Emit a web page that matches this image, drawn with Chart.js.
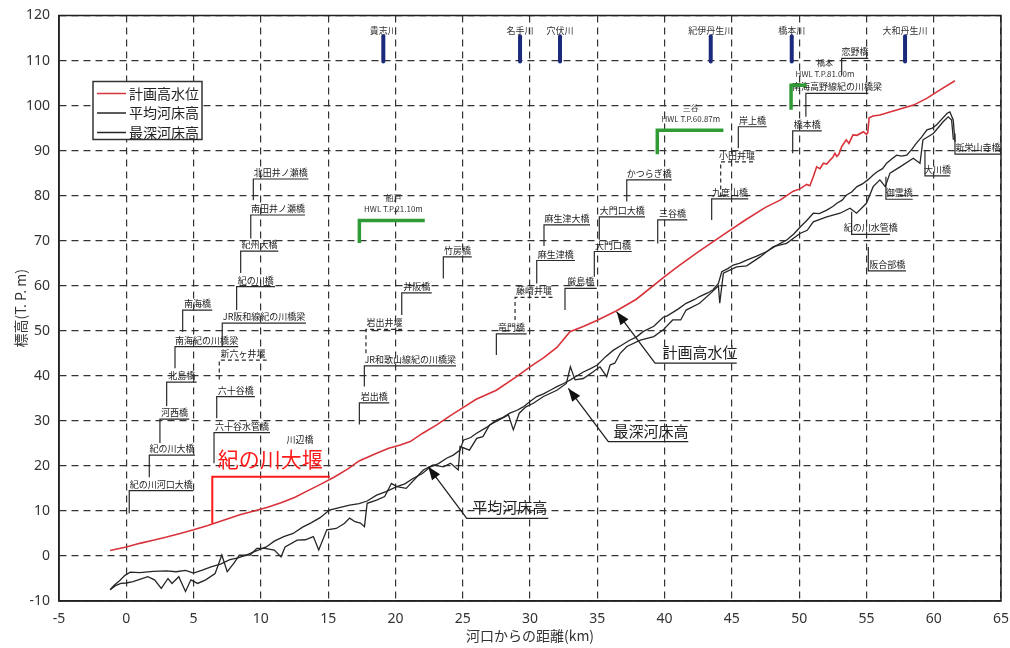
<!DOCTYPE html>
<html>
<head>
<meta charset="utf-8">
<script src="https://cdn.jsdelivr.net/npm/chart.js@4"></script>
<style>
html,body{margin:0;padding:0;background:#fff;}
#wrap{width:1010px;height:648px;}
</style>
</head>
<body>
<div id="wrap"><canvas id="c" width="1010" height="648"></canvas></div>
<script>
// ---------- data (km from river mouth, elevation T.P. m) ----------
const xTicks = [-5,0,5,10,15,20,25,30,35,40,45,50,55,60,65];
const yTicks = [-10,0,10,20,30,40,50,60,70,80,90,100,110,120];

const seriesNames = ['計画高水位','平均河床高','最深河床高'];

const hwlKm   = [-1.2,0,1,2,3,4,5,6,6.5,7.5,8.5,9.5,10.5,11.5,12.5,13.5,14.5,15.5,16.5,17.3,18.6,19.5,20.3,21.1,22.0,23.07,24.0,25.05,26.0,27.5,29.0,30.0,31.0,32.0,32.97,34.0,34.96,36.4,37.9,40.0,41.0,42.5,44.6,46.0,47.5,48.58,49.56,50.06,50.56,50.8,51.05,51.3,51.55,51.8,52.05,52.3,52.5,52.66,52.8,52.95,53.16,53.5,53.7,54.0,54.3,54.77,55.0,55.1,55.2,55.5,56.0,57.25,58.5,59.48,60.47,61.58];
const hwlElev = [1.2,2.0,2.8,3.5,4.2,5.0,5.8,6.7,7.2,8.2,9.2,10.0,10.8,11.8,13.0,14.5,16.0,17.6,19.4,21.1,22.8,23.9,24.6,25.4,27.2,29.1,31.0,33.0,34.8,36.8,39.8,42.0,44.0,46.3,49.8,51.0,52.3,54.4,57.0,62.0,64.3,67.5,71.8,74.6,77.4,79.0,81.0,81.5,82.5,82.2,84.2,86.4,86.0,87.2,87.0,87.9,88.5,89.4,88.7,89.2,90.9,92.4,91.6,93.5,93.4,94.2,93.6,94.0,97.3,97.7,97.9,99.0,100.1,101.6,103.5,105.5];

const avgKm   = [-1.2,-0.9,-0.5,-0.1,0.3,1.0,2.0,3.0,3.7,4.4,5.0,5.7,6.3,7.0,7.7,8.3,9.0,9.7,10.4,11.0,11.7,12.4,13.1,13.7,14.4,15.1,15.9,16.6,17.3,17.9,18.6,19.3,20.1,20.7,21.3,22.0,22.6,23.2,23.8,24.3,24.8,25.05,25.6,26.0,26.8,27.5,28.0,28.5,29.0,29.5,30.0,30.5,31.0,31.5,32.0,32.5,33.0,33.5,34.0,34.5,35.0,35.6,36.2,36.8,37.4,37.9,38.4,39.2,39.9,40.2,41.0,41.6,42.2,42.6,43.2,43.6,44.0,44.25,44.7,45.1,45.6,46.1,46.8,47.6,48.3,49.1,49.6,50.1,50.6,51.05,51.5,52.05,52.5,52.8,53.2,53.5,53.9,54.3,54.7,55.1,55.5,55.8,56.2,56.5,56.9,57.25,57.6,58.0,58.4,58.7,59.1,59.5,59.9,60.2,60.6,61.0,61.2,61.45,61.58];
const avgElev = [-7.5,-6.5,-5.5,-4.3,-3.6,-3.7,-3.4,-3.3,-3.5,-3.2,-3.8,-3.1,-2.4,-1.8,-0.8,-0.4,0.3,1.2,2.0,3.3,4.3,5.0,6.4,7.3,8.5,10.2,10.8,11.3,11.6,12.2,13.5,14.3,15.4,16.0,17.2,18.3,19.8,20.5,21.7,22.4,23.5,25.7,26.3,27.2,28.6,30.2,30.8,31.7,32.3,33.1,34.3,35.4,36.0,36.8,37.6,38.3,39.1,40.0,40.9,41.6,42.4,44.2,45.7,46.8,47.9,48.6,49.8,51.0,53.0,53.3,54.8,56.1,56.9,57.6,58.4,59.1,60.5,63.1,63.8,64.6,65.0,65.7,66.5,67.6,68.9,70.2,71.5,73.1,74.6,76.1,76.0,76.8,77.6,78.3,79.0,80.1,80.8,82.0,82.6,83.5,84.6,85.3,86.0,87.2,88.2,89.0,88.8,89.0,90.4,91.6,93.0,94.6,95.0,95.7,97.0,98.3,98.6,96.8,92.0];

const deepKm   = [-1.2,-0.8,-0.4,0.0,0.5,1.0,1.6,2.1,2.6,3.1,3.4,3.9,4.4,4.8,5.3,5.9,6.6,7.1,7.5,8.0,8.4,9.2,9.7,10.3,11.0,11.5,11.8,12.7,13.3,13.9,14.3,14.9,15.6,16.2,16.6,17.0,17.4,17.7,17.9,18.6,19.2,19.7,20.1,20.8,21.6,22.07,22.8,23.56,24.1,24.67,24.8,25.5,26.04,26.5,27.0,27.7,28.4,28.76,29.2,29.7,30.25,31.0,32.0,32.7,33.0,33.35,33.96,34.7,35.2,35.7,35.95,36.3,36.7,37.2,38.2,39.2,39.9,40.6,41.2,41.6,42.6,43.6,44.0,44.1,44.37,45.36,46.1,47.1,48.08,49.07,50.06,50.6,51.05,52.05,53.04,53.78,54.27,55.0,55.5,56.0,56.4,56.75,57.5,58.48,58.98,59.2,59.97,60.7,61.08,61.33,61.46];
const deepElev = [-7.5,-6.6,-6.1,-6.0,-5.7,-5.2,-4.6,-5.3,-7.2,-5.0,-6.1,-4.6,-7.9,-5.3,-6.1,-5.3,-3.9,0.2,-3.5,-1.6,0.2,0.2,1.7,1.7,1.3,-0.2,2.0,3.5,3.6,4.3,1.3,5.8,6.1,7.2,8.4,7.6,7.3,6.5,11.7,12.4,13.2,16.1,15.4,15.0,17.6,19.1,20.2,19.8,20.6,19.1,24.3,23.5,26.1,26.5,29.1,30.2,31.3,28.0,31.7,33.1,33.9,35.4,36.8,38.3,42.0,39.1,39.4,40.9,42.0,39.8,42.4,42.8,45.0,46.5,47.9,48.7,50.2,52.4,52.4,54.6,56.1,58.8,60.0,56.1,62.8,64.2,64.4,66.4,68.7,69.4,71.6,72.3,74.2,75.3,76.1,77.2,76.1,78.3,82.0,83.5,82.0,85.0,86.4,88.3,87.2,92.4,93.8,96.4,97.5,96.8,92.4];

// bridges: [name, km, stem elevation, line elevation, end km, kind (0 solid, 1 dashed weir, 2 text only)]
const bridges = [
  ['紀の川河口大橋',0.22,9.5,14.5,4.96,0],
  ['紀の川大橋',1.71,17.5,22.4,5.1,0],
  ['河西橋',2.5,25.1,30.4,4.68,0],
  ['北島橋',3.0,33.3,38.6,5.23,0],
  ['南海紀の川橋梁',3.62,41.7,46.5,8.32,0],
  ['南海橋',4.19,49.8,54.6,6.39,0],
  ['JR阪和線紀の川橋梁',7.13,46.5,51.7,13.35,0],
  ['新六ヶ井堰',6.91,39.2,43.5,10.43,1],
  ['六十谷橋',6.72,30.6,35.4,9.56,0],
  ['六十谷水管橋',6.52,20.6,27.4,10.68,0],
  ['川辺橋',11.6,null,24.4,14.2,2],
  ['北田井ノ瀬橋',9.44,79.0,83.7,13.53,0],
  ['南田井ノ瀬橋',9.25,70.5,75.7,13.28,0],
  ['紀州大橋',8.5,62.8,67.7,11.3,0],
  ['紀の川橋',8.2,54.6,59.8,11.05,0],
  ['岩出橋',17.32,29.2,34.0,19.55,0],
  ['JR和歌山線紀の川橋梁',17.69,37.6,42.2,24.5,0],
  ['岩出井堰',17.81,45.0,50.3,20.58,1],
  ['井阪橋',20.47,53.5,58.4,22.7,0],
  ['竹房橋',23.56,61.6,66.4,25.67,0],
  ['竜門橋',27.5,44.6,49.3,29.75,0],
  ['藤崎井堰',28.89,52.4,57.4,31.69,1],
  ['麻生津橋',30.5,60.5,65.6,33.34,0],
  ['麻生津大橋',31.04,68.8,73.5,34.46,0],
  ['厳島橋',32.6,54.6,59.4,34.96,0],
  ['大門口橋',34.78,62.0,67.6,37.56,0],
  ['大門口大橋',35.15,70.2,75.3,38.55,0],
  ['かつらぎ橋',37.19,78.7,83.5,40.53,0],
  ['三谷橋',39.49,69.4,74.6,41.69,0],
  ['九度山橋',43.5,74.6,79.3,46.22,0],
  ['小田井堰',44.17,79.8,87.5,46.6,1],
  ['岸上橋',45.48,90.5,95.3,47.59,0],
  ['橋本橋',49.52,89.4,94.4,51.68,0],
  ['南海高野線紀の川橋梁',50.5,97.5,102.7,55.14,0],
  ['恋野橋',53.16,106.8,110.5,55.14,0],
  ['紀の川水管橋',53.9,76.4,71.4,56.75,0],
  ['御霊橋',56.45,84.2,79.2,58.44,0],
  ['大川橋',59.35,90.1,84.4,61.2,0],
  ['新栄山寺橋',61.58,93.8,89.2,65.0,0],
  ['阪合部橋',55.14,68.6,63.3,57.94,0]
];

// reference water-level stations: [name, HWL text, km, stem, line, end km, label km]
const stations = [
  ['船戸','HWL T.P.21.10m',17.32,69.5,74.5,22.18,19.85],
  ['三谷','HWL T.P.60.87m',39.46,89.2,94.5,44.37,41.95],
  ['橋本','HWL T.P.81.00m',49.4,99.1,104.5,50.56,51.92]
];

// tributary confluences: [name, km]
const tributaries = [['貴志川',19.1],['名手川',29.26],['穴伏川',32.23],['紀伊丹生川',43.43],['橋本川',49.45],['大和丹生川',57.87]];
const tribBar = [109.8,115.4];
const tribLabelElev = 116.6;

// callouts: [text, tip km, tip elev, elbow km, elbow elev, end km, text km, text elev]
const callouts = [
  ['計画高水位',36.44,54.2,39.29,42.8,45.36,42.63,45.3],
  ['最深河床高',32.85,37.2,35.82,25.4,41.76,39.0,27.6],
  ['平均河床高',22.44,19.8,25.3,8.36,31.36,28.5,10.9]
];

// 紀の川大堰: [name, km, stem, line, end km, text km, text elev]
const weir = ['紀の川大堰',6.39,7.2,17.6,15.13,10.7,21.5];

const toXY = (xs, ys) => xs.map((v, i) => ({x: v, y: ys[i]}));

const JP = '"Noto Sans CJK JP", "Noto Sans", sans-serif';

const annotPlugin = {
  id: 'annot',
  afterDatasetsDraw(chart) {
    const {ctx, chartArea: ca, scales: {x, y}} = chart;
    const X = v => x.getPixelForValue(v), Y = v => y.getPixelForValue(v);
    ctx.save();
    // solid frame
    ctx.strokeStyle = '#222'; ctx.lineWidth = 1.5; ctx.setLineDash([]);
    ctx.strokeRect(ca.left, ca.top, ca.right - ca.left, ca.bottom - ca.top);

    // bridges
    bridges.forEach(([name, km, stem, line, end, kind]) => {
      ctx.strokeStyle = '#2a2a2a'; ctx.lineWidth = 1.2;
      if (kind !== 2) {
        ctx.setLineDash(kind === 1 ? [4, 3] : []);
        ctx.beginPath();
        ctx.moveTo(X(km), Y(stem)); ctx.lineTo(X(km), Y(line)); ctx.lineTo(X(end), Y(line));
        ctx.stroke();
      }
      ctx.setLineDash([]);
      ctx.fillStyle = '#222'; ctx.font = '9px ' + JP; ctx.textAlign = 'center'; ctx.textBaseline = 'alphabetic';
      ctx.fillText(name, (X(km) + X(end)) / 2, Y(line) - 3);
    });

    // stations (green)
    stations.forEach(([name, hwl, km, stem, line, end, lk]) => {
      ctx.strokeStyle = '#2e9b35'; ctx.lineWidth = 3.5; ctx.setLineDash([]);
      ctx.beginPath(); ctx.moveTo(X(km), Y(stem)); ctx.lineTo(X(km), Y(line)); ctx.lineTo(X(end), Y(line)); ctx.stroke();
      ctx.fillStyle = '#333'; ctx.font = '8px ' + JP; ctx.textAlign = 'center';
      ctx.fillText(hwl, X(lk), Y(line) - 8);
      ctx.fillText(name, X(lk), Y(line) - 19);
    });

    // tributaries
    tributaries.forEach(([name, km]) => {
      ctx.strokeStyle = '#1b2a7a'; ctx.lineWidth = 4; ctx.lineCap = 'round';
      ctx.beginPath(); ctx.moveTo(X(km), Y(tribBar[0])); ctx.lineTo(X(km), Y(tribBar[1])); ctx.stroke();
      ctx.lineCap = 'butt';
      ctx.fillStyle = '#333'; ctx.font = '9px ' + JP; ctx.textAlign = 'center';
      ctx.fillText(name, X(km), Y(tribLabelElev) + 3);
    });

    // weir (red)
    ctx.strokeStyle = '#ff1a1a'; ctx.lineWidth = 2;
    ctx.beginPath(); ctx.moveTo(X(weir[1]), Y(weir[2])); ctx.lineTo(X(weir[1]), Y(weir[3])); ctx.lineTo(X(weir[4]), Y(weir[3])); ctx.stroke();
    ctx.fillStyle = '#ff1a1a'; ctx.font = '21px ' + JP; ctx.textAlign = 'center'; ctx.textBaseline = 'middle';
    ctx.fillText(weir[0], X(weir[5]), Y(weir[6]));

    // callouts
    callouts.forEach(([t, tk, te, ek, ee, endk, txk, txe]) => {
      const tx = X(tk), ty = Y(te), ex = X(ek), ey = Y(ee);
      ctx.strokeStyle = '#222'; ctx.lineWidth = 1.3;
      ctx.beginPath(); ctx.moveTo(X(endk), ey); ctx.lineTo(ex, ey); ctx.lineTo(tx, ty); ctx.stroke();
      const ang = Math.atan2(ty - ey, tx - ex), L = 13, W = 5;
      ctx.fillStyle = '#111';
      ctx.beginPath();
      ctx.moveTo(tx, ty);
      ctx.lineTo(tx - L * Math.cos(ang) + W * Math.sin(ang), ty - L * Math.sin(ang) - W * Math.cos(ang));
      ctx.lineTo(tx - L * Math.cos(ang) - W * Math.sin(ang), ty - L * Math.sin(ang) + W * Math.cos(ang));
      ctx.closePath(); ctx.fill();
      ctx.fillStyle = '#222'; ctx.font = '15px ' + JP; ctx.textAlign = 'center'; ctx.textBaseline = 'middle';
      ctx.fillText(t, X(txk), Y(txe));
    });

    // legend
    const lx = ca.left + 34, ly = ca.top + 66, lw = 109, lh = 58;
    ctx.fillStyle = '#fff'; ctx.fillRect(lx, ly, lw, lh);
    ctx.strokeStyle = '#333'; ctx.lineWidth = 1.5; ctx.strokeRect(lx, ly, lw, lh);
    chart.data.datasets.forEach((ds, i) => {
      const yy = ly + 12 + i * 19.5;
      ctx.strokeStyle = ds.borderColor; ctx.lineWidth = 1.5;
      ctx.beginPath(); ctx.moveTo(lx + 4, yy); ctx.lineTo(lx + 33, yy); ctx.stroke();
      ctx.fillStyle = '#222'; ctx.font = '14px ' + JP; ctx.textAlign = 'left'; ctx.textBaseline = 'middle';
      ctx.fillText(ds.label, lx + 36, yy);
    });
    ctx.restore();
  }
};

new Chart(document.getElementById('c'), {
  type: 'line',
  data: {
    datasets: [
      {label: seriesNames[0], data: toXY(hwlKm, hwlElev), borderColor: '#d8323a', borderWidth: 1.6},
      {label: seriesNames[1], data: toXY(avgKm, avgElev), borderColor: '#262626', borderWidth: 1.3},
      {label: seriesNames[2], data: toXY(deepKm, deepElev), borderColor: '#262626', borderWidth: 1.3}
    ]
  },
  options: {
    responsive: false,
    animation: false,
    parsing: true,
    elements: {point: {radius: 0}, line: {tension: 0}},
    layout: {padding: {top: 15.5, right: 9, left: 0, bottom: 0}},
    plugins: {legend: {display: false}, tooltip: {enabled: false}},
    scales: {
      x: {
        type: 'linear', min: -5, max: 65,
        afterBuildTicks: s => { s.ticks = xTicks.map(v => ({value: v})); },
        afterFit: s => { s.height = 47; },
        grid: {color: '#333', lineWidth: 1.2, drawTicks: true, tickLength: 10, tickColor: 'rgba(0,0,0,0)'},
        border: {display: true, color: '#222', width: 1.5, dash: [7, 5]},
        ticks: {color: '#333', padding: 0, font: {family: '"Noto Sans", sans-serif', size: 14}},
        title: {display: true, text: '河口からの距離(km)', color: '#333', font: {family: JP, size: 14}, padding: {top: 0, bottom: 4}}
      },
      y: {
        type: 'linear', min: -10, max: 120,
        afterBuildTicks: s => { s.ticks = yTicks.map(v => ({value: v})); },
        afterFit: s => { s.width = 59; },
        grid: {color: '#333', lineWidth: 1.2, drawTicks: true, tickLength: 9, tickColor: 'rgba(0,0,0,0)'},
        border: {display: true, color: '#222', width: 1.5, dash: [7, 5]},
        ticks: {color: '#333', padding: 0, font: {family: '"Noto Sans", sans-serif', size: 14}},
        title: {display: true, text: '標高(T. P. m)', color: '#333', font: {family: JP, size: 14}, padding: {top: 12, bottom: 0}}
      }
    }
  },
  plugins: [annotPlugin]
});
</script>
</body>
</html>
